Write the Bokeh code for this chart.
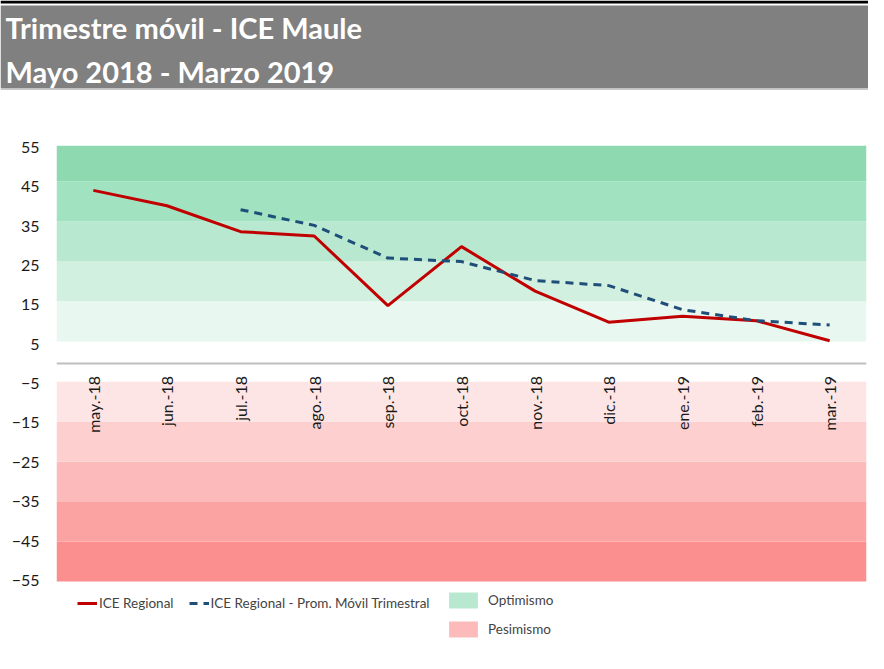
from math import pi
from bokeh.plotting import figure
from bokeh.layouts import column
from bokeh.models import (Range1d, FixedTicker, Legend, LegendItem)
from bokeh.core.properties import value
from bokeh.embed import file_html
from bokeh.resources import INLINE

# ---------------- data ----------------
months = ["may.-18", "jun.-18", "jul.-18", "ago.-18", "sep.-18", "oct.-18",
          "nov.-18", "dic.-18", "ene.-19", "feb.-19", "mar.-19"]
ice_regional = [44.1, 40.2, 33.6, 32.5, 14.8, 29.8, 18.5, 10.6, 12.1, 11.0, 5.9]
avg_months = months[2:]
ice_prom_movil = [39.2, 35.2, 26.9, 26.0, 21.2, 19.9, 13.8, 11.0, 9.9]
y_ticks = [-55, -45, -35, -25, -15, -5, 5, 15, 25, 35, 45, 55]

# background zones (value edges, bottom->top)
opt_edges = [5.7, 15.9, 26.0, 36.2, 46.4, 55.5]
opt_colors = ["#E8F7EF", "#D2F0E0", "#B8E8D0", "#A1E2C1", "#8FD9B1"]
pes_edges = [-55.3, -45.1, -34.9, -24.8, -14.6, -4.5]
pes_colors = ["#FB8E8E", "#FBA3A3", "#FCBABA", "#FDCFCF", "#FDE5E5"]

title_lines = ["Trimestre móvil - ICE Maule", "Mayo 2018 - Marzo 2019"]

FONT = "Lato"
W = 868
H = 653

# ---------------- title banner ----------------
TH = 90
t = figure(width=W, height=TH, x_range=Range1d(0, W), y_range=Range1d(0, TH),
           x_axis_type=None, y_axis_type=None, toolbar_location=None,
           output_backend="svg", min_border=0)
t.frame_align = False
t.outline_line_color = None
t.grid.visible = False
t.quad(left=[0], right=[W], bottom=[TH - 3], top=[TH], fill_color="#000000", line_color=None)
t.quad(left=[0], right=[W], bottom=[2], top=[TH - 5], fill_color="#808080", line_color=None)
t.quad(left=[0], right=[W], bottom=[0.5], top=[2], fill_color="#C8C8C8", line_color=None)
t.text(x=[5, 5], y=[TH - 27, TH - 71], text=title_lines, text_color="#FFFFFF",
       text_font=value(FONT), text_font_style="bold", text_font_size="29px",
       text_baseline="middle", text_align="left")

# ---------------- main chart ----------------
p = figure(width=W, height=H - TH, x_range=months, y_range=Range1d(-72.8, 55.5),
           toolbar_location=None, output_backend="svg",
           min_border_left=56, min_border_right=2, min_border_top=55, min_border_bottom=3)
p.frame_align = False
p.outline_line_color = None
p.grid.visible = False

n = len(months)
r_opt = p.quad(left=0, right=n, bottom=opt_edges[:-1], top=opt_edges[1:],
               fill_color=opt_colors, line_color=None)
r_pes = p.quad(left=0, right=n, bottom=pes_edges[:-1], top=pes_edges[1:],
               fill_color=pes_colors, line_color=None)

r_ice = p.line(months, ice_regional, line_color="#C00000", line_width=3)
r_avg = p.line(avg_months, ice_prom_movil, line_color="#1F4E79", line_width=3,
               line_dash="8 6")

# y axis
p.yaxis.ticker = FixedTicker(ticks=y_ticks)
p.yaxis.major_tick_line_color = None
p.yaxis.minor_tick_line_color = None
p.yaxis.major_tick_out = 0
p.yaxis.major_tick_in = 0
p.yaxis.minor_tick_out = 0
p.yaxis.axis_line_color = None
p.yaxis.major_label_standoff = 17
p.yaxis.major_label_text_font = FONT
p.yaxis.major_label_text_font_size = "16px"
p.yaxis.major_label_text_color = "#1A1A1A"

# x axis through zero
p.xaxis.fixed_location = 0
p.xaxis.major_label_orientation = pi / 2
p.xaxis.major_tick_line_color = None
p.xaxis.minor_tick_line_color = None
p.xaxis.major_tick_out = 0
p.xaxis.major_tick_in = 0
p.xaxis.axis_line_color = "#BFBFBF"
p.xaxis.axis_line_width = 2
p.xaxis.major_label_standoff = 12
p.xaxis.major_label_text_font = FONT
p.xaxis.major_label_text_font_size = "16px"
p.xaxis.major_label_text_color = "#1A1A1A"

leg1 = Legend(items=[LegendItem(label="ICE Regional", renderers=[r_ice]),
                     LegendItem(label="ICE Regional - Prom. Móvil Trimestral", renderers=[r_avg])],
              orientation="horizontal", location=(21, 37), padding=0, margin=0,
              spacing=15, glyph_width=20, glyph_height=20, label_standoff=2,
              label_text_font=FONT, label_text_font_size="13.5px",
              border_line_color=None, background_fill_alpha=0)
leg2 = Legend(items=[LegendItem(label="Optimismo", renderers=[r_opt], index=2),
                     LegendItem(label="Pesimismo", renderers=[r_pes], index=2)],
              orientation="vertical", location=(389, 11), padding=0, margin=0,
              spacing=9, glyph_width=36, glyph_height=20, label_standoff=7,
              label_text_font=FONT, label_text_font_size="13.5px",
              border_line_color=None, background_fill_alpha=0)
p.add_layout(leg1)
p.add_layout(leg2)

layout = column(t, p, spacing=0)
open("out.html", "w").write(file_html(layout, INLINE))
